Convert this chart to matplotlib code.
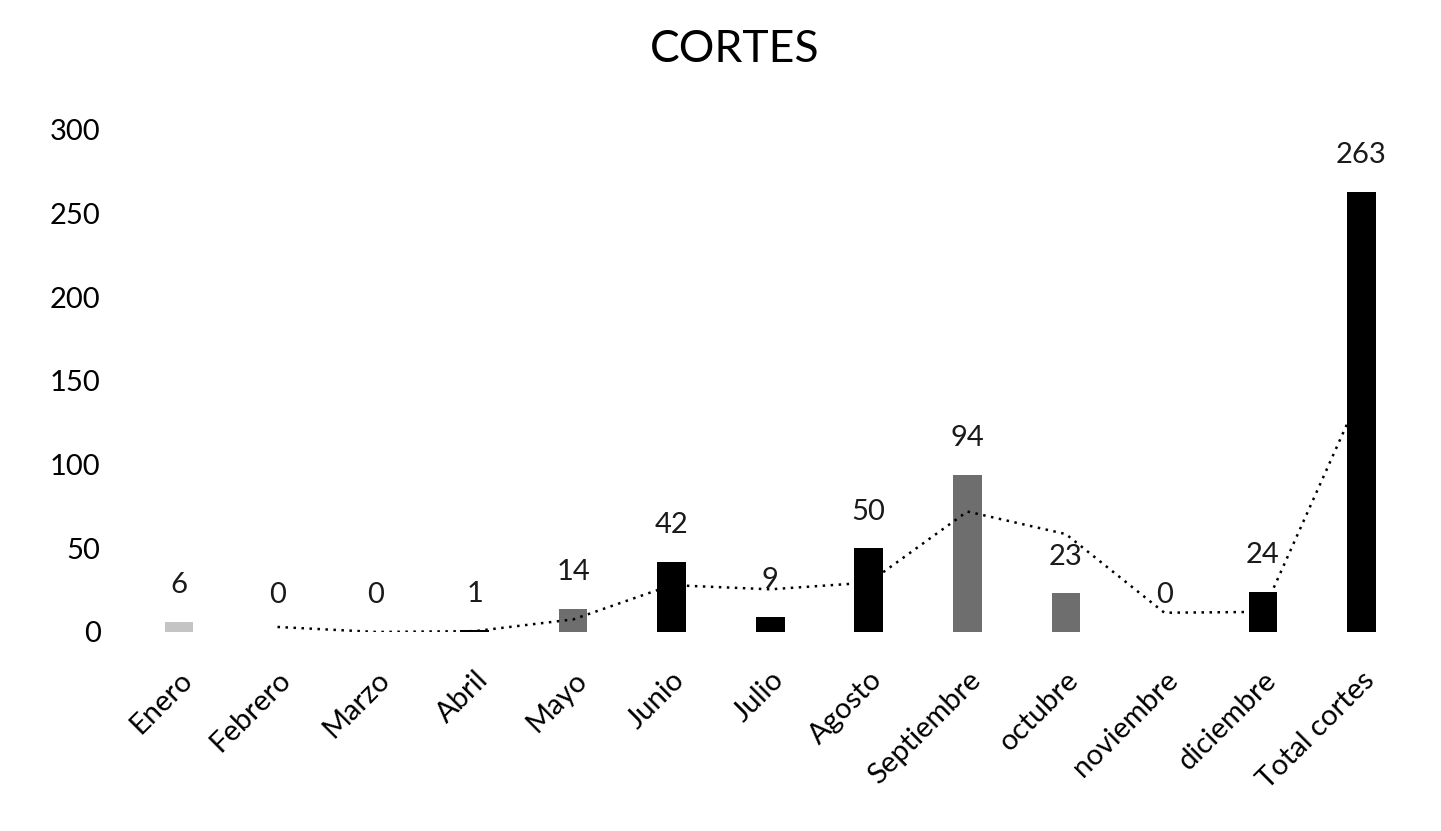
import matplotlib
matplotlib.use("Agg")
import matplotlib.pyplot as plt
import pandas as pd

months = ["Enero", "Febrero", "Marzo", "Abril", "Mayo", "Junio", "Julio",
          "Agosto", "Septiembre", "octubre", "noviembre", "diciembre",
          "Total cortes"]
cortes = [6, 0, 0, 1, 14, 42, 9, 50, 94, 23, 0, 24, 263]
bar_colors = ["#c4c4c4", "#000000", "#000000", "#000000", "#6e6e6e", "#000000",
              "#000000", "#000000", "#6e6e6e", "#6e6e6e", "#000000", "#000000",
              "#000000"]
yticks = [0, 50, 100, 150, 200, 250, 300]

plt.rcParams["font.family"] = ["Lato", "DejaVu Sans"]

fig = plt.figure(figsize=(14.41, 8.31), dpi=100)
ax = fig.add_axes([0.090, 0.2395, 0.889, 0.6041])

x = range(len(months))
bars = ax.bar(x, cortes, width=0.29, color=bar_colors, zorder=2)
ax.bar_label(bars, labels=[str(v) for v in cortes], padding=17,
             fontsize=21, color="#1a1a1a")

# two-period moving average trendline
ma = pd.Series(cortes).rolling(2).mean()
ax.plot(list(x), ma, linestyle=(0, (1, 2.2)), color="#000000", lw=1.8, zorder=3)

ax.set_xlim(-0.5, len(months) - 0.5)
ax.set_ylim(0, 300)
ax.set_yticks(yticks)
ax.set_xticks(list(x))
ax.set_xticklabels(months, rotation=45, ha="right", rotation_mode="anchor",
                   fontsize=21)
ax.tick_params(axis="y", labelsize=21, length=0, pad=21)
ax.tick_params(axis="x", length=0, pad=25)
for s in ax.spines.values():
    s.set_visible(False)

fig.suptitle("CORTES", y=0.965, fontsize=32, x=0.51)

fig.savefig("out.png", dpi=100, facecolor="white")
